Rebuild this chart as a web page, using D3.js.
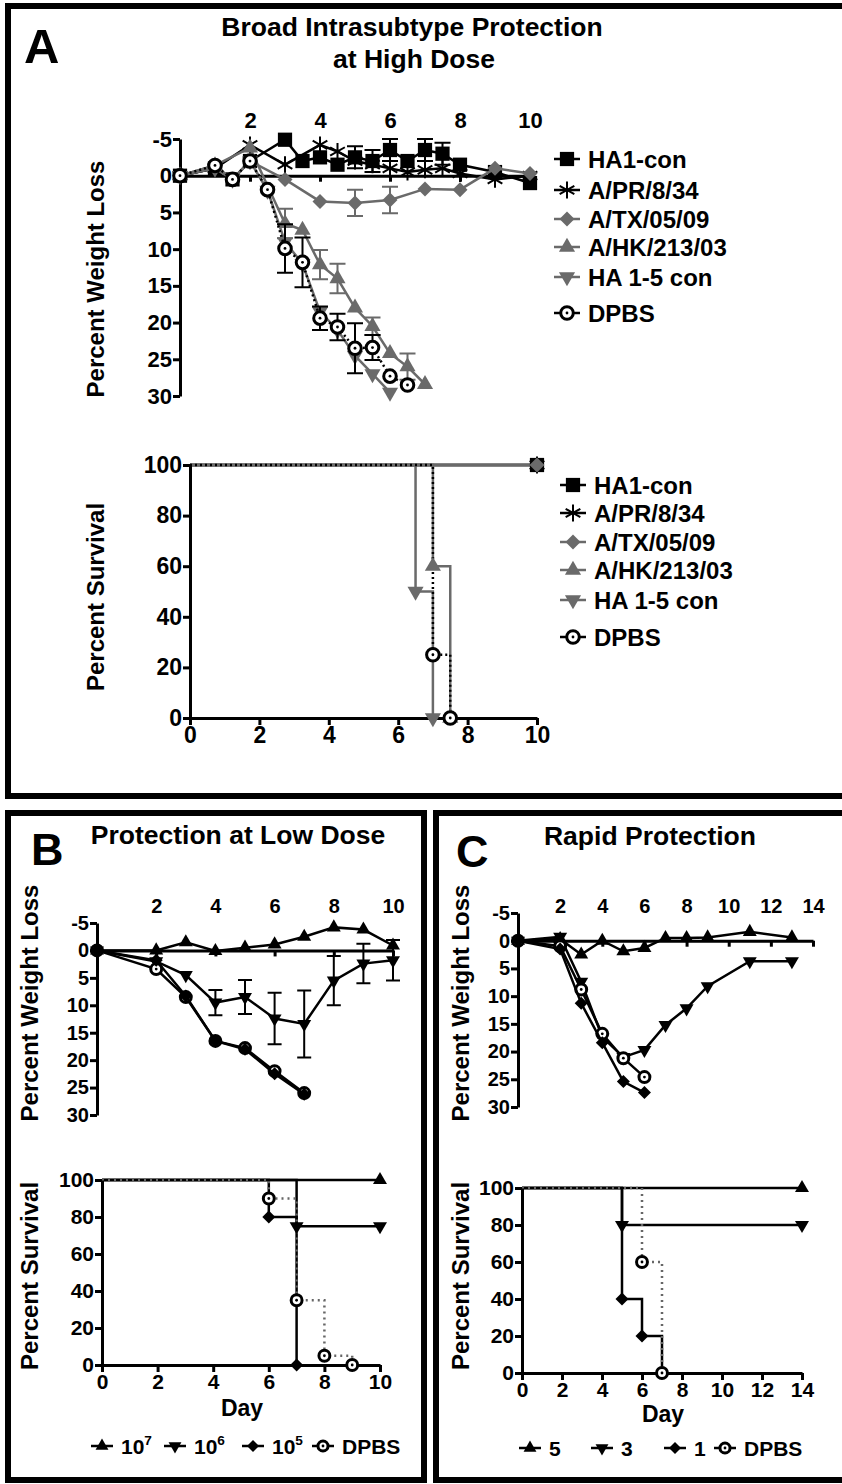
<!DOCTYPE html>
<html>
<head>
<meta charset="utf-8">
<script src="https://cdn.jsdelivr.net/npm/d3@7"></script>
<style>
  body{margin:0;background:#fff;}
  svg{display:block;}
  text{font-family:"Liberation Sans",Arial,Helvetica,sans-serif;font-weight:bold;fill:#000;}
</style>
</head>
<body>
<svg width="842" height="1484"></svg>
<script>
// ---------- DATA ----------
// tick labels
const weightTicks = [-5,0,5,10,15,20,25,30];
const survTicks = [0,20,40,60,80,100];
const dayTicks10 = [0,2,4,6,8,10];
const dayTicks14 = [0,2,4,6,8,10,12,14];

// panel A - weight loss (negative = gain)
const aNames = ['HA1-con','A/PR/8/34','A/TX/05/09','A/HK/213/03','HA 1-5 con','DPBS'];
const aDaysCon = [0,1,1.5,2,3,3.5,4,4.5,5,5.5,6,6.5,7,7.5,8,9,10];
const aHA1con  = [0,-1,0.5,-2,-4.9,-2,-2.5,-1.5,-2.5,-2,-3.5,-2,-3.5,-3,-1.5,-0.5,1];
const aHA1err  = [0,0,0,0,0,0,0,0,1.5,1.5,1.5,0,1.5,1.5,0,0,0];
const aDaysPR  = [0,1,2,3,4,4.5,5,5.5,6,6.5,7,7.5,8,9,10];
const aPR      = [0,-1,-4.2,-1.5,-4.2,-3.3,-2,-1.5,-1,-0.5,-0.8,-1,-0.3,0.5,0];
const aDaysTX  = [0,1,1.5,2,3,4,5,6,7,8,9,10];
const aTX      = [0,-1.4,0.5,-2,0.5,3.5,3.7,3.3,1.8,1.9,-1,-0.3];
const aTXerr   = [0,0,0,0,0,0,1.8,1.8,0,0,0,0];
const aDaysHK  = [0,1,2,3,3.5,4,4.5,5,5.5,6,6.5,7];
const aHK      = [0,-1.4,-3.8,6.5,7.4,12.1,14,18,20.5,24.2,26,28.4];
const aHKerr   = [0,0,0,2,0,2,2,0,1.2,0,1.8,0];
const aDaysH15 = [0,1,1.5,2,2.5,3,3.5,4,4.5,5,5.5,6];
const aH15     = [0,-1,0.5,-2,2,9,12,18.5,21,24.5,27,29.5];
const aDaysDP  = [0,1,1.5,2,2.5,3,3.5,4,4.5,5,5.5,6,6.5];
const aDPBS    = [0,-1.4,0.5,-2,1.9,9.9,11.8,19.4,20.6,23.5,23.4,27.3,28.5];
const aDPBSerr = [0,0,0,0,0,3.3,3.4,1.6,1.8,3.4,1.7,0,0];

// panel A - survival (step points)
const aSurvDaysFull = [0,10];  const aSurvFull = [100,100];
const aSurvDaysH15 = [0,6.5,7]; const aSurvH15 = [100,50,0];
const aSurvDaysHK = [0,7,7.5];  const aSurvHK = [100,60,0];
const aSurvDaysDP = [0,7,7.5];  const aSurvDP = [100,25,0];

// panel B - low dose
const bNames = ['10','10','10','DPBS'];
const bSup = ['7','6','5',''];
const bDays = [0,2,3,4,5,6,7,8,9,10];
const b107 = [0,0,-1.5,0.1,-0.5,-1.1,-2.5,-4.2,-3.8,-0.9];
const b106 = [0,2,4.5,9.5,8.5,12.4,13.4,5.5,2.4,1.8];
const b106err = [0,0,0,2.3,3.1,4.7,6.1,4.5,3.6,3.7];
const bDaysShort = [0,2,3,4,5,6,7];
const b105 = [0,1.8,8.3,16.5,18,22.5,26.2];
const bDPBS = [0,3.4,8.5,16.5,17.8,22,26];
const bSurvDays107 = [0,10];       const bSurv107 = [100,100];
const bSurvDays106 = [0,7,10];     const bSurv106 = [100,75,75];
const bSurvDays105 = [0,6,7];      const bSurv105 = [100,80,0];
const bSurvDaysDP = [0,6,7,8,9];   const bSurvDP = [100,90,35,5,0];

// panel C - rapid protection
const cNames = ['5','3','1','DPBS'];
const cDays = [0,2,3,4,5,6,7,8,9,11,13];
const c5 = [0,-0.3,2.5,0,1.9,1.3,-0.5,-0.5,-0.6,-1.6,-0.6];
const c3 = [0,-0.7,7.4,17.4,21,19.7,15.2,12.2,8.2,3.7,3.7];
const cDaysShort = [0,2,3,4,5,6];
const c1 = [0,1.5,11.3,18.4,25.4,27.4];
const cDPBS = [0,1,8.8,16.8,21.2,24.6];
const cSurvDays5 = [0,14];       const cSurv5 = [100,100];
const cSurvDays3 = [0,5,14];     const cSurv3 = [100,80,80];
const cSurvDays1 = [0,5,6,7];    const cSurv1 = [100,40,20,0];
const cSurvDaysDP = [0,6,7];     const cSurvDP = [100,60,0];

// ---------- DRAWING ----------
const svg = d3.select('svg');
const grey = '#6a6a6a';

// marker shapes
const drawMarker = (g, shape, x, y, s, color) => {
  if (shape === 'circle') {
    g.append('circle').attr('cx', x).attr('cy', y).attr('r', s*0.42)
      .attr('fill', '#fff').attr('stroke', color).attr('stroke-width', 3);
    g.append('circle').attr('cx', x).attr('cy', y).attr('r', 1.4).attr('fill', color);
    return;
  }
  let type = d3.symbolSquare, area = s*s*0.9, rot = 0;
  if (shape === 'diamond') { area = s*s*0.5; rot = 45; }
  if (shape === 'up' || shape === 'down') { type = d3.symbolTriangle; area = s*s*0.5; rot = shape === 'down' ? 180 : 0; }
  if (shape === 'asterisk') { type = d3.symbolAsterisk; area = s*s*0.9; }
  const p = g.append('path')
    .attr('d', d3.symbol().type(type).size(area)())
    .attr('transform', `translate(${x},${y}) rotate(${rot})`);
  if (shape === 'asterisk') p.attr('fill', 'none').attr('stroke', color).attr('stroke-width', 2);
  else p.attr('fill', color);
};

const styleAxis = (g, size) => {
  g.selectAll('.domain').attr('stroke', '#000').attr('stroke-width', 3);
  g.selectAll('.tick line').attr('stroke', '#000').attr('stroke-width', 3);
  g.selectAll('.tick text').attr('fill', '#000').style('font-size', size + 'px')
    .style('font-family', '"Liberation Sans",Arial,sans-serif').style('font-weight', 'bold');
};

// plain hyphen for negatives, like the original
const tickFmt = d => String(d);

// weight loss chart with day labels on top and x axis at zero
const weightChart = (cfg) => {
  const g = svg.append('g');
  const x = d3.scaleLinear().domain([0, cfg.maxDay]).range(cfg.xr);
  const y = d3.scaleLinear().domain([-5, 30]).range(cfg.yr);

  const ya = g.append('g').attr('transform', `translate(${x(0)},0)`)
    .call(d3.axisLeft(y).tickValues(weightTicks).tickFormat(tickFmt).tickSize(7).tickSizeOuter(0).tickPadding(1));
  styleAxis(ya, cfg.font);
  const xa = g.append('g').attr('transform', `translate(0,${y(0)})`)
    .call(d3.axisBottom(x).tickValues(cfg.ticks).tickSize(6).tickSizeOuter(0).tickFormat(''));
  styleAxis(xa, cfg.font);
  const xt = g.append('g').attr('transform', `translate(0,${cfg.labelY})`)
    .call(d3.axisTop(x).tickValues(cfg.ticks.slice(1)).tickFormat(tickFmt).tickSize(0).tickPadding(0));
  xt.select('.domain').remove();
  styleAxis(xt, cfg.font);

  cfg.series.forEach(s => {
    const pts = s.days.map((d, i) => [d, s.vals[i], s.err ? s.err[i] : 0]);
    g.append('path').datum(pts)
      .attr('d', d3.line().x(d => x(d[0])).y(d => y(d[1])))
      .attr('fill', 'none').attr('stroke', s.color).attr('stroke-width', cfg.lw)
      .attr('stroke-dasharray', s.dash || null);
    pts.filter(d => d[2] > 0).forEach(d => {
      g.append('path')
        .attr('d', `M${x(d[0])},${y(d[1]-d[2])}V${y(d[1]+d[2])}M${x(d[0])-cfg.cap},${y(d[1]-d[2])}h${cfg.cap*2}M${x(d[0])-cfg.cap},${y(d[1]+d[2])}h${cfg.cap*2}`)
        .attr('stroke', s.color).attr('stroke-width', 2).attr('fill', 'none');
    });
    pts.forEach(d => drawMarker(g, s.shape, x(d[0]), y(d[1]), cfg.ms, s.color));
  });
};

// Kaplan-Meier style survival chart
const survChart = (cfg) => {
  const g = svg.append('g');
  const x = d3.scaleLinear().domain([0, cfg.maxDay]).range(cfg.xr);
  const y = d3.scaleLinear().domain([0, 100]).range(cfg.yr);

  cfg.series.forEach(s => {
    const pts = s.days.map((d, i) => [d, s.vals[i]]);
    g.append('path').datum(pts)
      .attr('d', d3.line().curve(d3.curveStepAfter).x(d => x(d[0])).y(d => y(d[1])))
      .attr('fill', 'none').attr('stroke', s.lineColor || s.color).attr('stroke-width', cfg.lw)
      .attr('stroke-dasharray', s.dash || null);
  });

  const ya = g.append('g').attr('transform', `translate(${x(0)},0)`)
    .call(d3.axisLeft(y).tickValues(survTicks).tickFormat(tickFmt).tickSize(7).tickSizeOuter(0).tickPadding(1));
  styleAxis(ya, cfg.font);
  const xa = g.append('g').attr('transform', `translate(0,${y(0)})`)
    .call(d3.axisBottom(x).tickValues(cfg.ticks).tickFormat(tickFmt).tickSize(7).tickSizeOuter(0).tickPadding(2));
  styleAxis(xa, cfg.font);

  cfg.series.forEach(s => {
    s.days.forEach((d, i) => { if (d > 0) drawMarker(g, s.shape, x(d), y(s.vals[i]), cfg.ms, s.color); });
  });
};

// vertical axis titles
const yTitle = (txt, x, y, size) => {
  svg.append('text').text(txt)
    .attr('transform', `translate(${x},${y}) rotate(-90)`)
    .attr('text-anchor', 'middle').style('font-size', size + 'px');
};

// legend item: line + marker + label
const legendItem = (x, y, shape, color, label, sup, ms, size, half) => {
  svg.append('line').attr('x1', x-half).attr('x2', x+half).attr('y1', y).attr('y2', y)
    .attr('stroke', color).attr('stroke-width', 2.5);
  drawMarker(svg, shape, x, y, ms, color);
  const t = svg.append('text').attr('x', x + half + 8).attr('y', y + size*0.36)
    .style('font-size', size + 'px').text(label);
  if (sup) t.append('tspan').attr('dy', -size*0.4).style('font-size', (size*0.65) + 'px').text(sup);
};

// ---- panel frames ----
svg.append('rect').attr('x', 8).attr('y', 6).attr('width', 850).attr('height', 790)
  .attr('fill', 'none').attr('stroke', '#000').attr('stroke-width', 6);
svg.append('rect').attr('x', 8).attr('y', 813).attr('width', 416).attr('height', 667)
  .attr('fill', 'none').attr('stroke', '#000').attr('stroke-width', 6);
svg.append('rect').attr('x', 436).attr('y', 813).attr('width', 420).attr('height', 667)
  .attr('fill', 'none').attr('stroke', '#000').attr('stroke-width', 6);

// ---- panel A ----
svg.append('text').text('A').attr('x', 24).attr('y', 63).style('font-size', '49px');
svg.append('text').text('Broad Intrasubtype Protection').attr('x', 412).attr('y', 36)
  .attr('text-anchor', 'middle').style('font-size', '26.5px');
svg.append('text').text('at High Dose').attr('x', 414).attr('y', 68)
  .attr('text-anchor', 'middle').style('font-size', '26.5px');

const aShapes = ['square','asterisk','diamond','up','down','circle'];
const aColors = ['#000','#000',grey,grey,grey,'#000'];

weightChart({
  maxDay: 10, xr: [180, 530], yr: [139, 396], ticks: dayTicks10, labelY: 128,
  font: 22, lw: 2.5, cap: 8, ms: 15,
  series: [
    {days: aDaysCon, vals: aHA1con, err: aHA1err, shape: aShapes[0], color: aColors[0]},
    {days: aDaysPR, vals: aPR, shape: aShapes[1], color: aColors[1]},
    {days: aDaysTX, vals: aTX, err: aTXerr, shape: aShapes[2], color: aColors[2]},
    {days: aDaysHK, vals: aHK, err: aHKerr, shape: aShapes[3], color: aColors[3]},
    {days: aDaysH15, vals: aH15, shape: aShapes[4], color: aColors[4]},
    {days: aDaysDP, vals: aDPBS, err: aDPBSerr, shape: aShapes[5], color: aColors[5], dash: '2,3'}
  ]
});
yTitle('Percent Weight Loss', 104, 279, 24);

survChart({
  maxDay: 10, xr: [190, 537], yr: [718, 465], ticks: dayTicks10,
  font: 23, lw: 2.5, ms: 15,
  series: [
    {days: aSurvDaysFull, vals: aSurvFull, shape: aShapes[0], color: aColors[0]},
    {days: aSurvDaysFull, vals: aSurvFull, shape: aShapes[1], color: aColors[1]},
    {days: aSurvDaysFull, vals: aSurvFull, shape: aShapes[2], color: aColors[2]},
    {days: aSurvDaysHK, vals: aSurvHK, shape: aShapes[3], color: aColors[3]},
    {days: aSurvDaysH15, vals: aSurvH15, shape: aShapes[4], color: aColors[4]},
    {days: aSurvDaysDP, vals: aSurvDP, shape: aShapes[5], color: aColors[5], dash: '2,3'}
  ]
});
yTitle('Percent Survival', 104, 597, 24);

const aLegWeightY = [159, 190, 219, 247, 277, 313];
const aLegSurvY = [485, 513, 542, 570, 600, 637];
aNames.forEach((n, i) => {
  legendItem(567, aLegWeightY[i], aShapes[i], aColors[i], n, null, 15, 24, 13);
  legendItem(573, aLegSurvY[i], aShapes[i], aColors[i], n, null, 15, 24, 13);
});

// ---- panel B ----
svg.append('text').text('B').attr('x', 31).attr('y', 865).style('font-size', '45px');
svg.append('text').text('Protection at Low Dose').attr('x', 238).attr('y', 844)
  .attr('text-anchor', 'middle').style('font-size', '26.5px');

const bcShapes = ['up','down','diamond','circle'];

weightChart({
  maxDay: 10, xr: [97, 393], yr: [923, 1115], ticks: dayTicks10, labelY: 913,
  font: 20, lw: 2.5, cap: 7, ms: 13,
  series: [
    {days: bDays, vals: b107, shape: 'up', color: '#000'},
    {days: bDays, vals: b106, err: b106err, shape: 'down', color: '#000'},
    {days: bDaysShort, vals: bDPBS, shape: 'circle', color: '#000'},
    {days: bDaysShort, vals: b105, shape: 'diamond', color: '#000'}
  ]
});
yTitle('Percent Weight Loss', 38, 1003, 24);

survChart({
  maxDay: 10, xr: [102, 380], yr: [1365, 1180], ticks: dayTicks10,
  font: 21, lw: 2.5, ms: 13,
  series: [
    {days: bSurvDays107, vals: bSurv107, shape: 'up', color: '#000'},
    {days: bSurvDays106, vals: bSurv106, shape: 'down', color: '#000'},
    {days: bSurvDays105, vals: bSurv105, shape: 'diamond', color: '#000'},
    {days: bSurvDaysDP, vals: bSurvDP, shape: 'circle', color: '#000', lineColor: '#666', dash: '2,4'}
  ]
});
yTitle('Percent Survival', 38, 1276, 24);
svg.append('text').text('Day').attr('x', 242).attr('y', 1416)
  .attr('text-anchor', 'middle').style('font-size', '23px');

const bLegX = [102, 175, 253, 323];
bNames.forEach((n, i) => legendItem(bLegX[i], 1446, bcShapes[i], '#000', n, bSup[i], 12, 21, 11));

// ---- panel C ----
svg.append('text').text('C').attr('x', 456).attr('y', 867).style('font-size', '45px');
svg.append('text').text('Rapid Protection').attr('x', 650).attr('y', 845)
  .attr('text-anchor', 'middle').style('font-size', '26.5px');

weightChart({
  maxDay: 14, xr: [518, 813], yr: [913, 1107], ticks: dayTicks14, labelY: 913,
  font: 20, lw: 2.5, cap: 7, ms: 13,
  series: [
    {days: cDays, vals: c5, shape: 'up', color: '#000'},
    {days: cDays, vals: c3, shape: 'down', color: '#000'},
    {days: cDaysShort, vals: cDPBS, shape: 'circle', color: '#000'},
    {days: cDaysShort, vals: c1, shape: 'diamond', color: '#000'}
  ]
});
yTitle('Percent Weight Loss', 469, 1003, 24);

survChart({
  maxDay: 14, xr: [522, 802], yr: [1373, 1188], ticks: dayTicks14,
  font: 21, lw: 2.5, ms: 13,
  series: [
    {days: cSurvDays5, vals: cSurv5, shape: 'up', color: '#000'},
    {days: cSurvDays3, vals: cSurv3, shape: 'down', color: '#000'},
    {days: cSurvDays1, vals: cSurv1, shape: 'diamond', color: '#000'},
    {days: cSurvDaysDP, vals: cSurvDP, shape: 'circle', color: '#000', lineColor: '#666', dash: '2,4'}
  ]
});
yTitle('Percent Survival', 469, 1276, 24);
svg.append('text').text('Day').attr('x', 663).attr('y', 1422)
  .attr('text-anchor', 'middle').style('font-size', '23px');

const cLegX = [530, 602, 675, 725];
cNames.forEach((n, i) => legendItem(cLegX[i], 1448, bcShapes[i], '#000', n, null, 12, 21, 11));
</script>
</body>
</html>
